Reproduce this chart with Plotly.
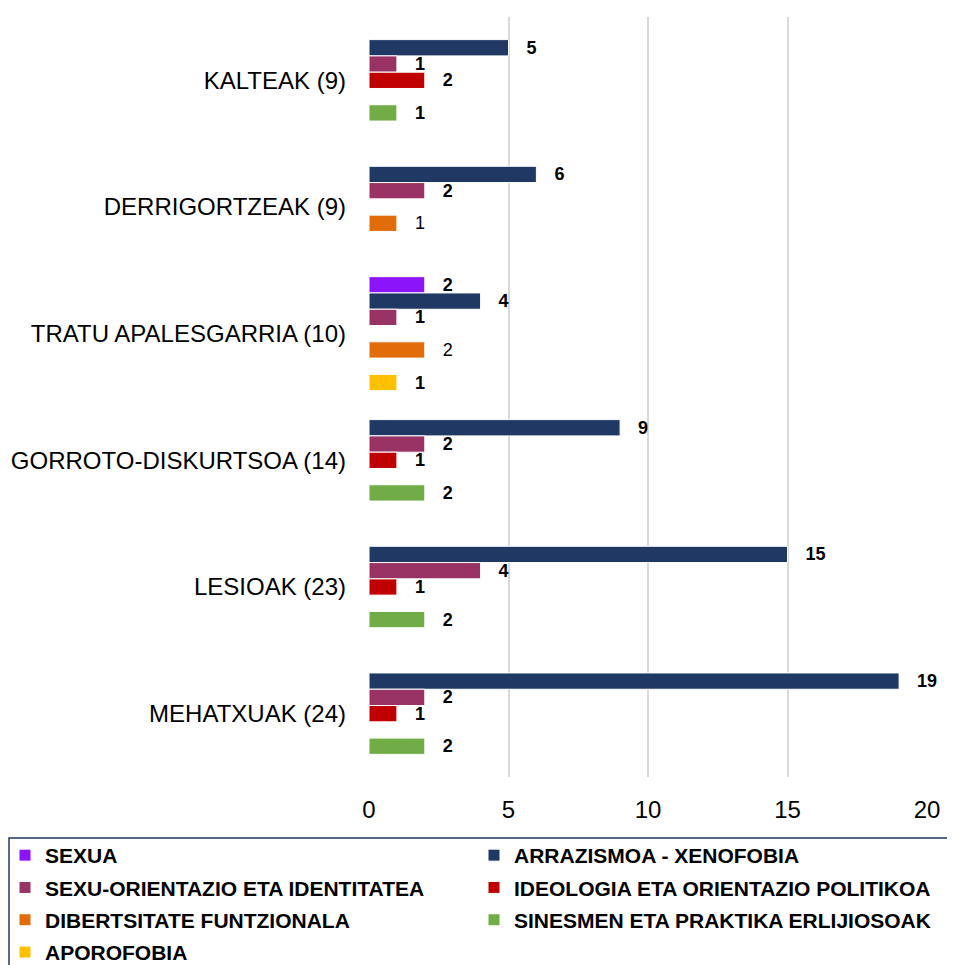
import plotly.graph_objects as go

categories = [
    "KALTEAK (9)",
    "DERRIGORTZEAK (9)",
    "TRATU APALESGARRIA (10)",
    "GORROTO-DISKURTSOA (14)",
    "LESIOAK (23)",
    "MEHATXUAK (24)",
]

series_names = [
    "SEXUA",
    "ARRAZISMOA - XENOFOBIA",
    "SEXU-ORIENTAZIO ETA IDENTITATEA",
    "IDEOLOGIA ETA ORIENTAZIO POLITIKOA",
    "DIBERTSITATE FUNTZIONALA",
    "SINESMEN ETA PRAKTIKA ERLIJIOSOAK",
    "APOROFOBIA",
]

sexua = [None, None, 2, None, None, None]
arrazismoa = [5, 6, 4, 9, 15, 19]
sexu_orientazio = [1, 2, 1, 2, 4, 2]
ideologia = [2, None, None, 1, 1, 1]
dibertsitate = [None, 1, 2, None, None, None]
sinesmen = [1, None, None, 2, 2, 2]
aporofobia = [None, None, 1, None, None, None]

series_values = [sexua, arrazismoa, sexu_orientazio, ideologia,
                 dibertsitate, sinesmen, aporofobia]
colors = ["#8B14F8", "#203864", "#993366", "#C00000",
          "#E36C0A", "#70AD47", "#FFC000"]
label_weight = ["bold", "bold", "bold", "bold", "normal", "bold", "bold"]
# legend is laid out in two columns, filled row by row
legend_column = ["legend", "legend2", "legend", "legend2", "legend", "legend2", "legend"]

FONT = "Liberation Sans, Arial, sans-serif"

# page body adds an 8px margin, so the figure is a bit smaller than the window
W, H = 947, 957
L, R, T, B = 361, 28, 9, 188
PW, PH = W - L - R, H - T - B


def px_to_paper_x(px):
    return (px - L) / PW


def px_to_paper_y(py):
    return 1 - (py - T) / PH


fig = go.Figure()
for name, vals, color, weight, leg in zip(series_names, series_values, colors,
                                           label_weight, legend_column):
    fig.add_trace(
        go.Bar(
            y=categories,
            x=vals,
            name=name,
            orientation="h",
            marker=dict(color=color, line=dict(color="white", width=1)),
            texttemplate="\u00a0\u00a0\u00a0%{x}",
            textposition="outside",
            constraintext="none",
            textfont=dict(family=FONT, size=18, color="black", weight=weight),
            cliponaxis=False,
            legend=leg,
            legendgroup=name,
        )
    )

legend_style = dict(
    orientation="v",
    xanchor="left",
    yanchor="top",
    bgcolor="rgba(0,0,0,0)",
    borderwidth=0,
    font=dict(family=FONT, size=21, color="black", weight="bold"),
    traceorder="grouped",
    tracegroupgap=2,
    itemclick=False,
)

fig.update_layout(
    width=W,
    height=H,
    barmode="group",
    bargap=0.1,
    bargroupgap=0,
    plot_bgcolor="white",
    paper_bgcolor="white",
    font=dict(family=FONT, size=24, color="black"),
    margin=dict(l=L, r=R, t=T, b=B, autoexpand=False),
    showlegend=True,
    legend=dict(x=px_to_paper_x(-3), y=px_to_paper_y(827), **legend_style),
    legend2=dict(x=px_to_paper_x(466), y=px_to_paper_y(827), **legend_style),
)

# frame around the legend (bottom edge falls below the page, as in the source)
fig.add_shape(
    type="rect",
    xref="paper", yref="paper",
    x0=px_to_paper_x(1), x1=px_to_paper_x(944),
    y0=px_to_paper_y(830), y1=px_to_paper_y(1000),
    line=dict(color="#1F3864", width=1.5),
    fillcolor="rgba(0,0,0,0)",
    layer="below",
)

fig.update_xaxes(
    range=[0, 20],
    tickvals=[0, 5, 10, 15, 20],
    showgrid=True,
    gridcolor="#D9D9D9",
    gridwidth=2,
    zeroline=False,
    showline=False,
    ticks="",
    ticklabelstandoff=16,
    tickfont=dict(size=24),
    automargin=False,
)
fig.update_yaxes(
    autorange="reversed",
    showgrid=False,
    showline=False,
    ticks="",
    ticklabelstandoff=22,
    tickfont=dict(size=24),
    automargin=False,
)

fig.write_html("out.html")
